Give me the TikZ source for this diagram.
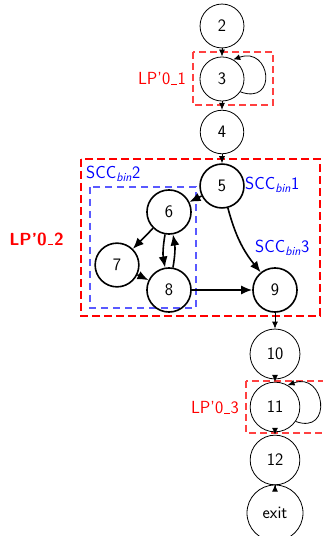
\documentclass[tikz,border=0pt]{standalone}
\usepackage{fontspec}
\usetikzlibrary{arrows.meta}
\newcommand{\lblfont}{\fontsize{17.5}{21}\selectfont\sffamily}
\newcommand{\sccname}[1]{SCC\textsubscript{\textit{bin}}#1}
\newcommand{\lowbar}[1][0.9pt]{\kern.06em\vbox{\hrule width .3em height #1}\kern.06em}
\tikzset{
  vert/.style={circle, draw, line width=0.8pt, inner sep=10.5pt, minimum size=38pt, font=\lblfont},
  bvert/.style={vert, line width=1.6pt, minimum size=36pt},
  thinarr/.style={-{Latex[length=7pt,width=6pt]}, line width=0.8pt},
  thickarr/.style={-{Latex[length=11pt,width=9pt]}, line width=1.6pt},
  lpbox/.style={draw=red!75, line width=1.2pt, dash pattern=on 7pt off 4pt},
  lpbig/.style={draw=red, line width=2.2pt, dash pattern=on 8pt off 4pt},
  sccbox/.style={draw=blue!65, line width=1.1pt, dash pattern=on 7pt off 5pt},
  lplabel/.style={text=red, font=\lblfont, inner sep=0pt},
  scclabel/.style={text=blue, font=\lblfont, inner sep=0pt},
}
\begin{document}
\begin{tikzpicture}[x=1pt,y=1pt]
\useasboundingbox (0,0) rectangle (323,536);
\fill[white] (0,0) rectangle (323,536);
% boxes
\draw[lpbox] (193,484) rectangle (273,431);
\draw[lpbig] (81,377) rectangle (320,220);
\draw[sccbox] (90,349) rectangle (196,228);
\draw[lpbox] (246,155) rectangle (327,103);
% nodes
\node[vert] (n2) at (222,510) {2};
\node[vert] (n3) at (222,457) {3};
\node[vert] (n4) at (222,404) {4};
\node[bvert] (n5) at (222,350) {5};
\node[bvert] (n6) at (169,324) {6};
\node[bvert] (n7) at (117,271) {7};
\node[bvert] (n8) at (169,246) {8};
\node[bvert] (n9) at (275,246) {9};
\node[vert] (n10) at (275,182) {10};
\node[vert] (n11) at (275,129) {11};
\node[vert] (n12) at (275,76) {12};
\node[vert] (nexit) at (275,23) {exit};
% labels
\node[lplabel, anchor=east] (l1) at (186,457) {LP'0\lowbar 1};
\node[lplabel, font=\lblfont\bfseries] (l2) at (36.5,297) {LP'0\lowbar[1.4pt]2};
\node[lplabel, anchor=east] (l3) at (239,128) {LP'0\lowbar 3};
\node[scclabel, anchor=west] (s2) at (86,362) {\sccname{2}};
\node[scclabel, anchor=west] (s1) at (245,351) {\sccname{1}};
\node[scclabel, anchor=west] (s3) at (255,288) {\sccname{3}};
% thin edges
\draw[thinarr] (n2) -- (n3);
\draw[thinarr] (n3) -- (n4);
\draw[thinarr] (n4) -- (n5);
\draw[thinarr] (n9) -- (n10);
\draw[thinarr] (n10) -- (n11);
\draw[thinarr] (n11) -- (n12);
\draw[thinarr] (n12) -- (nexit);
\draw[thinarr] (n3.-35) .. controls +(-20:40) and +(20:40) .. (n3.60);
\draw[thinarr] (n11.-35) .. controls +(-20:40) and +(20:40) .. (n11.60);
% thick edges
\draw[thickarr] (n5) -- (n6);
\draw[thickarr] (n5) to[bend right=12] (n9);
\draw[thickarr] (n6) -- (n7);
\draw[thickarr] (n7) -- (n8);
\draw[thickarr] (n6) to[bend right=10] (n8);
\draw[thickarr] (n8) to[bend right=10] (n6);
\draw[thickarr] (n8) -- (n9);
\end{tikzpicture}
\end{document}
